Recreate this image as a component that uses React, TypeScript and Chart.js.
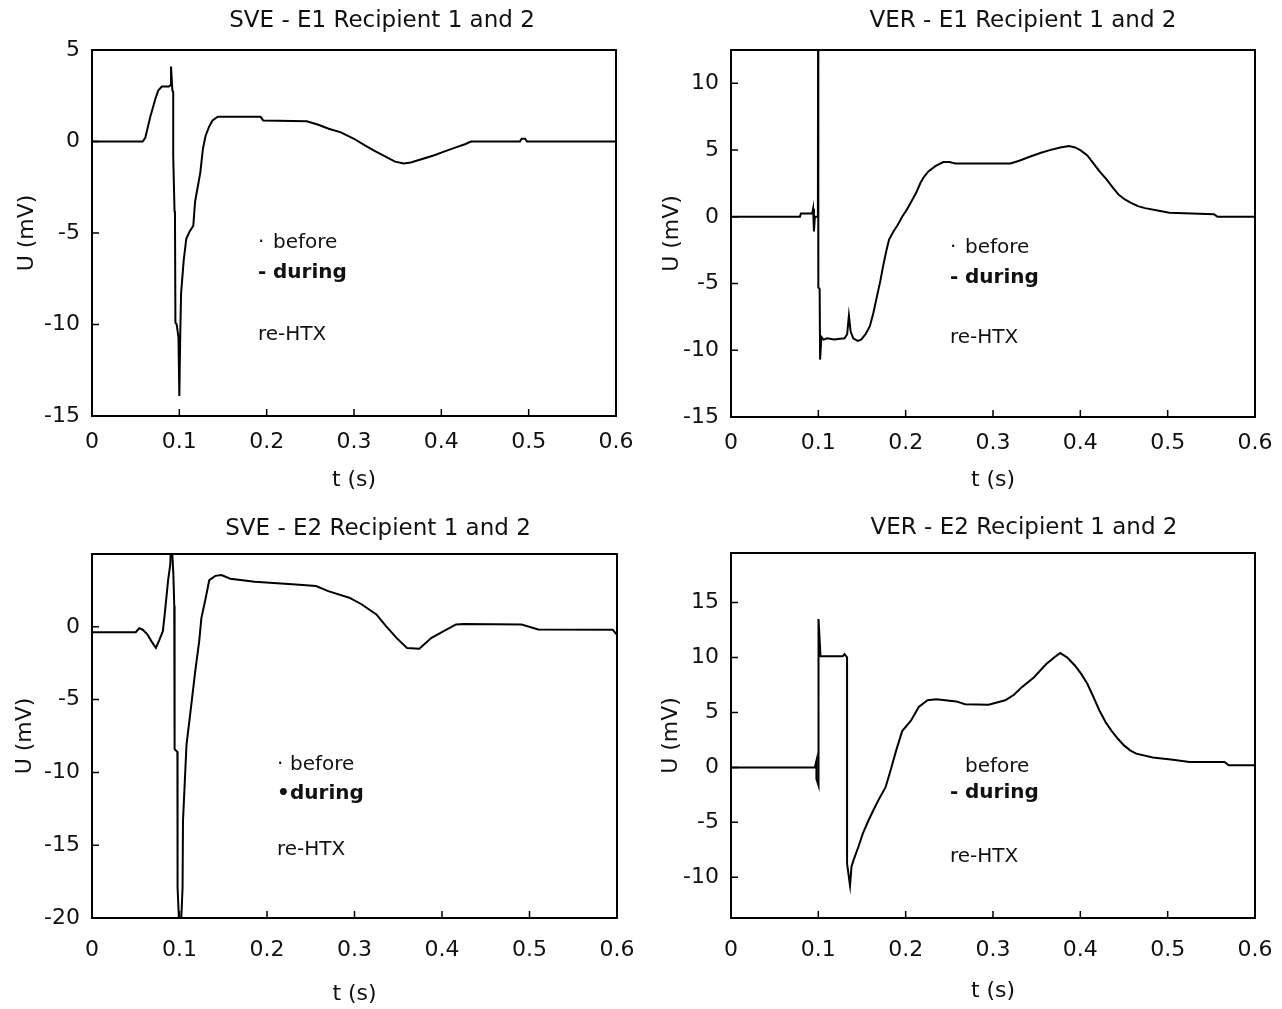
import React, { useEffect, useRef } from 'react';
import { Chart, registerables } from 'chart.js';

Chart.register(...registerables);

// ---------- axis ticks ----------
const X_TICKS = [0, 0.1, 0.2, 0.3, 0.4, 0.5, 0.6];
const X_TICK_LABELS = ['0', '0.1', '0.2', '0.3', '0.4', '0.5', '0.6'];
const SVE_E1_Y_TICKS = [5, 0, -5, -10, -15];
const VER_E1_Y_TICKS = [10, 5, 0, -5, -10, -15];
const SVE_E2_Y_TICKS = [0, -5, -10, -15, -20];
const VER_E2_Y_TICKS = [15, 10, 5, 0, -5, -10];

// ---------- texts ----------
const TITLES = [
  'SVE - E1 Recipient 1 and 2',
  'VER - E1 Recipient 1 and 2',
  'SVE - E2 Recipient 1 and 2',
  'VER - E2 Recipient 1 and 2',
];
const X_TITLE = 't (s)';
const Y_TITLE = 'U (mV)';
const NOTE_BEFORE = 'before';
const NOTE_DURING = 'during';
const NOTE_RE = 're-HTX';

// ---------- series: t (s) and U (mV) ----------
const SVE_E1_T = [0, 0.058, 0.061, 0.064, 0.067, 0.07, 0.073, 0.076, 0.08, 0.088, 0.0905, 0.0905, 0.092, 0.093, 0.093, 0.0945, 0.095, 0.0955, 0.097, 0.099, 0.1, 0.101, 0.102, 0.105, 0.108, 0.112, 0.116, 0.118, 0.121, 0.124, 0.127, 0.13, 0.134, 0.138, 0.144, 0.193, 0.196, 0.246, 0.26, 0.271, 0.285, 0.3, 0.312, 0.323, 0.335, 0.347, 0.357, 0.365, 0.38, 0.392, 0.403, 0.415, 0.427, 0.434, 0.49, 0.492, 0.496, 0.498, 0.6];
const SVE_E1_U = [0, 0, 0.2, 0.8, 1.4, 1.9, 2.4, 2.8, 3.0, 3.0, 3.1, 4.1, 2.8, 2.7, -0.8, -3.8, -3.9, -9.9, -10.0, -10.7, -13.9, -10.7, -8.3, -6.5, -5.3, -4.9, -4.6, -3.3, -2.5, -1.7, -0.4, 0.3, 0.8, 1.15, 1.35, 1.35, 1.15, 1.1, 0.9, 0.7, 0.5, 0.15, -0.2, -0.5, -0.8, -1.1, -1.2, -1.15, -0.93, -0.75, -0.55, -0.35, -0.15, 0, 0, 0.15, 0.15, 0, 0];

const VER_E1_T = [0, 0.079, 0.08, 0.093, 0.094, 0.095, 0.096, 0.0995, 0.0997, 0.1, 0.1015, 0.102, 0.1035, 0.106, 0.11, 0.118, 0.13, 0.133, 0.135, 0.137, 0.14, 0.145, 0.149, 0.154, 0.159, 0.163, 0.167, 0.171, 0.174, 0.178, 0.181, 0.186, 0.191, 0.196, 0.201, 0.207, 0.212, 0.217, 0.221, 0.226, 0.234, 0.243, 0.25, 0.257, 0.32, 0.33, 0.342, 0.355, 0.365, 0.377, 0.387, 0.394, 0.4, 0.408, 0.415, 0.422, 0.43, 0.437, 0.444, 0.451, 0.458, 0.466, 0.474, 0.49, 0.502, 0.553, 0.557, 0.6];
const VER_E1_U = [0, 0, 0.25, 0.25, 0.6, -1.1, 0, 0, 14, -5.3, -5.4, -10.7, -9.0, -9.2, -9.1, -9.2, -9.1, -8.8, -7.4, -8.6, -9.1, -9.3, -9.2, -8.8, -8.2, -7.2, -6.0, -4.8, -3.75, -2.5, -1.7, -1.1, -0.6, 0.0, 0.5, 1.2, 1.8, 2.55, 3.0, 3.4, 3.8, 4.1, 4.1, 4.0, 4.0, 4.2, 4.5, 4.8, 5.0, 5.2, 5.3, 5.2, 5.0, 4.6, 4.0, 3.4, 2.8, 2.2, 1.65, 1.3, 1.05, 0.8, 0.65, 0.45, 0.3, 0.2, 0, 0];

const SVE_E2_T = [0, 0.05, 0.054, 0.058, 0.063, 0.068, 0.073, 0.077, 0.081, 0.083, 0.085, 0.087, 0.0895, 0.0905, 0.093, 0.094, 0.0944, 0.0976, 0.0978, 0.1, 0.1014, 0.1035, 0.104, 0.108, 0.113, 0.118, 0.1225, 0.125, 0.13, 0.134, 0.141, 0.148, 0.158, 0.186, 0.233, 0.256, 0.27, 0.294, 0.308, 0.325, 0.336, 0.348, 0.36, 0.374, 0.388, 0.402, 0.416, 0.425, 0.491, 0.51, 0.595, 0.6];
const SVE_E2_U = [-0.37, -0.37, -0.1, -0.2, -0.5, -1.0, -1.45, -0.9, -0.3, 0.8, 2.0, 3.2, 4.3, 6.5, 3.6, 1.45, -8.4, -8.6, -17.9, -21, -21, -17.9, -13.3, -8.1, -5.6, -3.05, -1.0, 0.6, 2.0, 3.2, 3.5, 3.55, 3.3, 3.1, 2.9, 2.8, 2.45, 2.0, 1.55, 0.85, 0.05, -0.76, -1.45, -1.5, -0.76, -0.3, 0.16, 0.2, 0.16, -0.18, -0.2, -0.55];

const VER_E2_T = [0, 0.096, 0.0978, 0.0978, 0.1002, 0.1002, 0.1025, 0.128, 0.13, 0.1329, 0.1329, 0.1363, 0.138, 0.14, 0.146, 0.151, 0.157, 0.163, 0.17, 0.177, 0.183, 0.189, 0.196, 0.206, 0.215, 0.225, 0.235, 0.258, 0.268, 0.295, 0.314, 0.324, 0.333, 0.347, 0.361, 0.37, 0.377, 0.385, 0.394, 0.401, 0.408, 0.415, 0.422, 0.429, 0.436, 0.443, 0.45, 0.457, 0.464, 0.483, 0.506, 0.525, 0.565, 0.57, 0.6];
const VER_E2_U = [0, 0, 0.6, -1.05, -1.65, 13.5, 10.1, 10.1, 10.3, 10.0, -8.75, -10.75, -9.0, -8.5, -7.2, -6.0, -4.9, -3.9, -2.8, -1.8, -0.2, 1.5, 3.3, 4.25, 5.5, 6.1, 6.2, 6.0, 5.75, 5.7, 6.1, 6.6, 7.3, 8.2, 9.4, 10.0, 10.4, 10.0, 9.25, 8.5, 7.6, 6.4, 5.15, 4.1, 3.3, 2.6, 2.0, 1.55, 1.25, 0.9, 0.7, 0.5, 0.5, 0.2, 0.2];

// ---------- layout (page pixels) ----------
type Note = { marker: string; text: string; y: number; bold: boolean; atMarker: boolean };
type Panel = {
  title: string;
  t: number[];
  u: number[];
  yMin: number;
  yMax: number;
  yTicks: number[];
  box: { l: number; t: number; w: number; h: number };
  area: { l: number; r: number; t: number; b: number };
  titleX: number;
  titleY: number;
  yTitlePad: number;
  xTitlePad: number;
  xTickPad: number;
  markerX: number;
  textX: number;
  notes: Note[];
};

const notesFor = (m1: string, m2: string, y1: number, y2: number, y3: number): Note[] => [
  { marker: m1, text: NOTE_BEFORE, y: y1, bold: false, atMarker: false },
  { marker: m2, text: NOTE_DURING, y: y2, bold: true, atMarker: false },
  { marker: '', text: NOTE_RE, y: y3, bold: false, atMarker: true },
];

const PANELS: Panel[] = [
  {
    title: TITLES[0], t: SVE_E1_T, u: SVE_E1_U, yMin: -15, yMax: 5, yTicks: SVE_E1_Y_TICKS,
    box: { l: 0, t: 0, w: 641, h: 505 }, area: { l: 92, r: 616, t: 50, b: 416 },
    titleX: 382, titleY: 21, yTitlePad: 13.8, xTitlePad: 11.8, xTickPad: 13,
    markerX: 258, textX: 273, notes: notesFor('·', '-', 248, 278, 340),
  },
  {
    title: TITLES[1], t: VER_E1_T, u: VER_E1_U, yMin: -15, yMax: 12.5, yTicks: VER_E1_Y_TICKS,
    box: { l: 641, t: 0, w: 641, h: 505 }, area: { l: 731, r: 1255, t: 50, b: 417 },
    titleX: 1023, titleY: 21, yTitlePad: 17.8, xTitlePad: 11.8, xTickPad: 13,
    markerX: 950, textX: 965, notes: notesFor('·', '-', 253, 283, 343),
  },
  {
    title: TITLES[2], t: SVE_E2_T, u: SVE_E2_U, yMin: -20, yMax: 5, yTicks: SVE_E2_Y_TICKS,
    box: { l: 0, t: 505, w: 641, h: 504 }, area: { l: 92, r: 617, t: 554, b: 918 },
    titleX: 378, titleY: 529, yTitlePad: 11.8, xTitlePad: 1.8, xTickPad: 19,
    markerX: 277, textX: 290, notes: notesFor('·', '•', 770, 799, 855),
  },
  {
    title: TITLES[3], t: VER_E2_T, u: VER_E2_U, yMin: -13.7, yMax: 19.5, yTicks: VER_E2_Y_TICKS,
    box: { l: 641, t: 505, w: 641, h: 504 }, area: { l: 731, r: 1255, t: 553, b: 918 },
    titleX: 1024, titleY: 528, yTitlePad: 16.8, xTitlePad: 4.8, xTickPad: 19,
    markerX: 950, textX: 965, notes: notesFor('', '-', 772, 798, 862),
  },
];

const FONT = '"DejaVu Sans", "Liberation Sans", sans-serif';
const INK = '#111';

const framePlugin = {
  id: 'frame',
  afterDatasetsDraw(chart: any) {
    const { ctx, chartArea: a, scales } = chart;
    ctx.save();
    ctx.strokeStyle = '#000';
    ctx.lineWidth = 2;
    ctx.strokeRect(a.left, a.top, a.right - a.left, a.bottom - a.top);
    ctx.lineWidth = 1.5;
    ctx.beginPath();
    scales.x.ticks.forEach((tk: any) => {
      const px = scales.x.getPixelForValue(tk.value);
      ctx.moveTo(px, a.bottom);
      ctx.lineTo(px, a.bottom - 7);
    });
    scales.y.ticks.forEach((tk: any) => {
      const py = scales.y.getPixelForValue(tk.value);
      ctx.moveTo(a.left, py);
      ctx.lineTo(a.left + 7, py);
    });
    ctx.stroke();
    ctx.restore();
  },
};

const makeTextPlugin = (p: Panel) => ({
  id: 'panelText',
  afterDraw(chart: any) {
    const ctx = chart.ctx;
    ctx.save();
    ctx.fillStyle = INK;
    ctx.textAlign = 'center';
    ctx.textBaseline = 'middle';
    ctx.font = `23px ${FONT}`;
    ctx.fillText(p.title, p.titleX - p.box.l, p.titleY - p.box.t);
    ctx.textAlign = 'left';
    ctx.textBaseline = 'alphabetic';
    p.notes.forEach((n) => {
      ctx.font = `${n.bold ? 'bold ' : ''}20px ${FONT}`;
      const y = n.y - p.box.t;
      if (n.marker) ctx.fillText(n.marker, p.markerX - p.box.l, y);
      ctx.fillText(n.text, (n.atMarker ? p.markerX : p.textX) - p.box.l, y);
    });
    ctx.restore();
  },
});

function PanelChart({ p }: { p: Panel }) {
  const ref = useRef<HTMLCanvasElement | null>(null);
  useEffect(() => {
    if (!ref.current) return;
    const chart = new Chart(ref.current, {
      type: 'line',
      data: {
        datasets: [
          {
            label: p.title,
            data: p.t.map((x, i) => ({ x, y: p.u[i] })),
            borderColor: '#000',
            borderWidth: 2,
            pointRadius: 0,
            tension: 0,
            fill: false,
          },
        ],
      },
      options: {
        responsive: false,
        animation: false,
        events: [],
        layout: {
          padding: {
            left: 0,
            top: p.area.t - p.box.t,
            right: p.box.l + p.box.w - p.area.r,
            bottom: 0,
          },
        },
        plugins: {
          legend: { display: false },
          tooltip: { enabled: false },
          title: { display: false },
        },
        scales: {
          x: {
            type: 'linear',
            min: 0,
            max: 0.6,
            grid: { display: false, drawTicks: false },
            border: { display: false },
            afterBuildTicks: (s: any) => {
              s.ticks = X_TICKS.map((v) => ({ value: v }));
            },
            afterFit: (s: any) => {
              s.height = p.box.t + p.box.h - p.area.b;
              s.paddingLeft = 0;
              s.paddingRight = 0;
            },
            ticks: {
              padding: p.xTickPad,
              color: INK,
              font: { family: FONT, size: 22 },
              maxRotation: 0,
              autoSkip: false,
              callback: (v: any) => {
                const i = X_TICKS.indexOf(Number(v));
                return i >= 0 ? X_TICK_LABELS[i] : '';
              },
            },
            title: {
              display: true,
              text: X_TITLE,
              color: INK,
              font: { family: FONT, size: 22 },
              padding: { top: 0, bottom: p.xTitlePad },
            },
          },
          y: {
            type: 'linear',
            min: p.yMin,
            max: p.yMax,
            grid: { display: false, drawTicks: false },
            border: { display: false },
            afterBuildTicks: (s: any) => {
              s.ticks = p.yTicks.map((v) => ({ value: v }));
            },
            afterFit: (s: any) => {
              s.width = p.area.l - p.box.l;
              s.paddingTop = 0;
              s.paddingBottom = 0;
            },
            ticks: {
              padding: 12,
              color: INK,
              font: { family: FONT, size: 22 },
              autoSkip: false,
              callback: (v: any) => String(v),
            },
            title: {
              display: true,
              text: Y_TITLE,
              color: INK,
              font: { family: FONT, size: 22 },
              padding: { top: p.yTitlePad, bottom: 0 },
            },
          },
        },
      } as any,
      plugins: [framePlugin, makeTextPlugin(p)],
    });
    return () => chart.destroy();
  }, [p]);
  return (
    <canvas
      ref={ref}
      width={p.box.w}
      height={p.box.h}
      style={{ position: 'absolute', left: p.box.l, top: p.box.t, width: p.box.w, height: p.box.h }}
    />
  );
}

export default function App() {
  return (
    <div
      style={{
        position: 'absolute',
        left: 0,
        top: 0,
        width: 1282,
        height: 1009,
        background: '#fff',
        overflow: 'hidden',
      }}
    >
      {PANELS.map((p, i) => (
        <PanelChart key={i} p={p} />
      ))}
    </div>
  );
}
